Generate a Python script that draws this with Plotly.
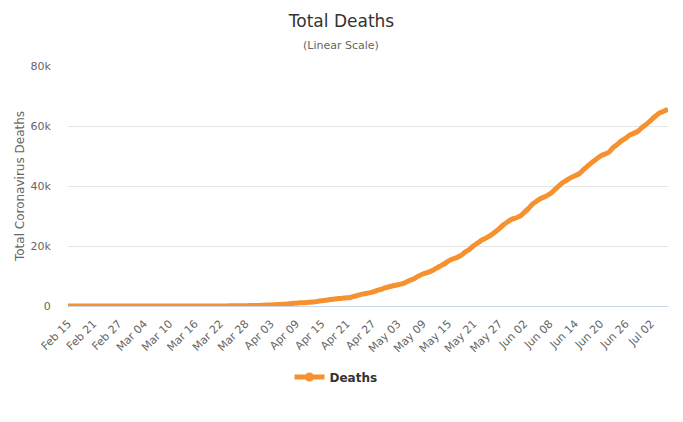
import pandas as pd
import plotly.graph_objects as go

# Dates Feb 15 .. Jul 06 (2020)
dates = pd.date_range("2020-02-15", "2020-07-06", freq="D")
categories = [d.strftime("%b %d") for d in dates]

feb_mar_zero = [0] * 31  # Feb 15 .. Mar 16
mar_deaths = [1, 4, 6, 11, 15, 25, 34, 46, 59, 77, 92, 111, 136, 159, 201]
apr_deaths = [240, 324, 359, 445, 486, 564, 686, 819, 950, 1057, 1124, 1223, 1328, 1532, 1736,
              1924, 2141, 2354, 2462, 2587, 2741, 2906, 3331, 3704, 4057, 4286, 4603, 5083, 5513, 6006]
may_deaths = [6412, 6761, 7051, 7367, 7938, 8588, 9190, 10017, 10656, 11123, 11653, 12461, 13240,
              13999, 14962, 15662, 16118, 16853, 17983, 18859, 20082, 21048, 22013, 22716, 23522,
              24593, 25697, 27016, 28013, 28906, 29341]
jun_deaths = [29937, 31199, 32548, 34021, 35026, 35930, 36499, 37312, 38497, 39797, 41058, 41901,
              42791, 43389, 44118, 45456, 46665, 47869, 48954, 49976, 50617, 51271, 52771, 53874,
              55054, 55961, 57070, 57622, 58385, 59656]
jul_deaths = [60713, 61990, 63254, 64365, 64900, 65556]

deaths = feb_mar_zero + mar_deaths + apr_deaths + may_deaths + jun_deaths + jul_deaths
assert len(deaths) == len(categories)

y_ticks = [0, 20000, 40000, 60000, 80000]
y_tick_labels = ["0", "20k", "40k", "60k", "80k"]

ORANGE = "#F5922F"
FONT = "DejaVu Sans"

fig = go.Figure()
fig.add_trace(go.Scatter(
    x=categories, y=deaths, mode="lines", name="Deaths",
    line=dict(color=ORANGE, width=5, shape="spline", smoothing=0.6),
    showlegend=False, hoverinfo="x+y",
))
# legend entry (line + marker symbol like the reference)
fig.add_trace(go.Scatter(
    x=[None], y=[None], mode="lines+markers", name="Deaths",
    line=dict(color=ORANGE, width=5), marker=dict(color=ORANGE, size=9, symbol="circle"),
))

fig.update_layout(
    width=683, height=422,
    margin=dict(l=68, r=15, t=66, b=116, autoexpand=False),
    paper_bgcolor="white", plot_bgcolor="white",
    font=dict(family=FONT, color="#666666", size=11),
    title=dict(text="Total Deaths", x=0.5, xref="container", xanchor="center",
               y=1 - 21 / 422, yanchor="middle",
               font=dict(family=FONT, size=17, color="#333333")),
    legend=dict(orientation="h", x=(336 - 68) / 600, xanchor="center",
                y=-0.296, yanchor="middle",
                font=dict(family=FONT, size=12, color="#333333", weight="bold"),
                itemwidth=30),
    annotations=[dict(text="(Linear Scale)", x=(341 - 68) / 600, xref="paper",
                      y=(306 - 45) / 240, yref="paper",
                      xanchor="center", yanchor="middle", showarrow=False,
                      font=dict(family=FONT, size=11, color="#666666"))],
)
fig.update_xaxes(
    type="category", range=[0, len(categories) - 1],
    tickmode="array", tickvals=categories[::6], ticktext=categories[::6],
    tickangle=-45, showgrid=False, showline=True, linecolor="#ccd6eb", linewidth=1,
    ticks="outside", ticklen=6, tickcolor="rgba(0,0,0,0)",
    tickfont=dict(family=FONT, size=11, color="#666666"), zeroline=False,
)
fig.update_yaxes(
    range=[0, 80000], tickmode="array", tickvals=y_ticks, ticktext=y_tick_labels,
    showgrid=True, gridcolor="#e6e6e6", gridwidth=1, zeroline=False, showline=False,
    ticks="outside", ticklen=14, tickcolor="rgba(0,0,0,0)",
    tickfont=dict(family=FONT, size=11, color="#666666"),
    title=dict(text="Total Coronavirus Deaths", standoff=3,
               font=dict(family=FONT, size=12, color="#666666")),
)

fig.write_html("out.html", config={"displayModeBar": False},
               post_script="document.body.style.margin='0';")
